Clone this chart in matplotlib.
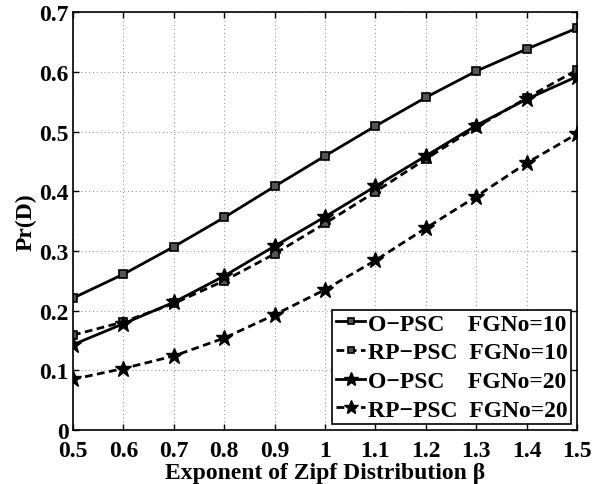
import matplotlib
matplotlib.use("Agg")
import matplotlib.pyplot as plt

plt.rcParams['font.family'] = ['Liberation Serif', 'DejaVu Serif']
plt.rcParams['font.weight'] = 'bold'

beta = [0.5, 0.6, 0.7, 0.8, 0.9, 1.0, 1.1, 1.2, 1.3, 1.4, 1.5]
x_tick_labels = ['0.5', '0.6', '0.7', '0.8', '0.9', '1', '1.1', '1.2', '1.3', '1.4', '1.5']
y_ticks = [0, 0.1, 0.2, 0.3, 0.4, 0.5, 0.6, 0.7]
y_tick_labels = ['0', '0.1', '0.2', '0.3', '0.4', '0.5', '0.6', '0.7']

o_psc_10 = [0.221, 0.261, 0.307, 0.356, 0.408, 0.459, 0.509, 0.557, 0.601, 0.638, 0.673]
rp_psc_10 = [0.159, 0.181, 0.212, 0.250, 0.295, 0.346, 0.399, 0.454, 0.507, 0.556, 0.603]
o_psc_20 = [0.143, 0.178, 0.214, 0.258, 0.308, 0.357, 0.408, 0.459, 0.510, 0.554, 0.592]
rp_psc_20 = [0.085, 0.103, 0.124, 0.154, 0.193, 0.235, 0.284, 0.338, 0.391, 0.447, 0.496]

labels = ['O\u2212PSC    FGNo=10',
          'RP\u2212PSC  FGNo=10',
          'O\u2212PSC    FGNo=20',
          'RP\u2212PSC  FGNo=20']

fig = plt.figure(figsize=(6.06, 4.85), dpi=100)
ax = fig.add_axes([0.1205, 0.1113, 0.8315, 0.8617])

lw = 2.0
dash = (0, (2.8, 1.6))
ax.plot(beta, o_psc_10, color='black', lw=lw, ls='-', marker='s', ms=6,
        mfc='#555555', mec='black', mew=1.2, label=labels[0])
ax.plot(beta, rp_psc_10, color='black', lw=lw, ls=dash, marker='s', ms=6,
        mfc='#555555', mec='black', mew=1.2, label=labels[1])
ax.plot(beta, o_psc_20, color='black', lw=lw, ls='-', marker='*', ms=12,
        mfc='black', mec='black', label=labels[2])
ax.plot(beta, rp_psc_20, color='black', lw=lw, ls=dash, marker='*', ms=12,
        mfc='black', mec='black', label=labels[3])

ax.set_xlim(0.5, 1.5)
ax.set_ylim(0, 0.7)
ax.set_xticks(beta)
ax.set_xticklabels(x_tick_labels)
ax.set_yticks(y_ticks)
ax.set_yticklabels(y_tick_labels)
ax.tick_params(direction='in', top=True, right=True, length=4, width=1,
               labelsize=17)
ax.tick_params(axis='x', pad=7)
ax.tick_params(axis='y', pad=3)
for lab in ax.get_xticklabels() + ax.get_yticklabels():
    lab.set_fontweight('bold')

ax.grid(True, ls=(0, (1, 2.5)), color='#999999', lw=0.8)
for sp in ax.spines.values():
    sp.set_linewidth(1.2)

ax.set_xlabel('Exponent of Zipf Distribution \u03b2', fontsize=17,
              fontweight='bold', labelpad=1)
ax.set_ylabel('Pr(D)', fontsize=17, fontweight='bold', labelpad=2)

leg = ax.legend(loc='lower right', fontsize=17, handlelength=1.25,
                handletextpad=0.1, borderpad=0.15, labelspacing=0.3,
                borderaxespad=0.25, fancybox=False, framealpha=1,
                edgecolor='black')
leg.get_frame().set_linewidth(1.2)
for t in leg.get_texts():
    t.set_fontweight('bold')
for h in leg.legend_handles:
    if h.get_marker() == 's':
        h.set_markersize(5)
    else:
        h.set_markersize(10)

fig.savefig('out.png', dpi=100)
